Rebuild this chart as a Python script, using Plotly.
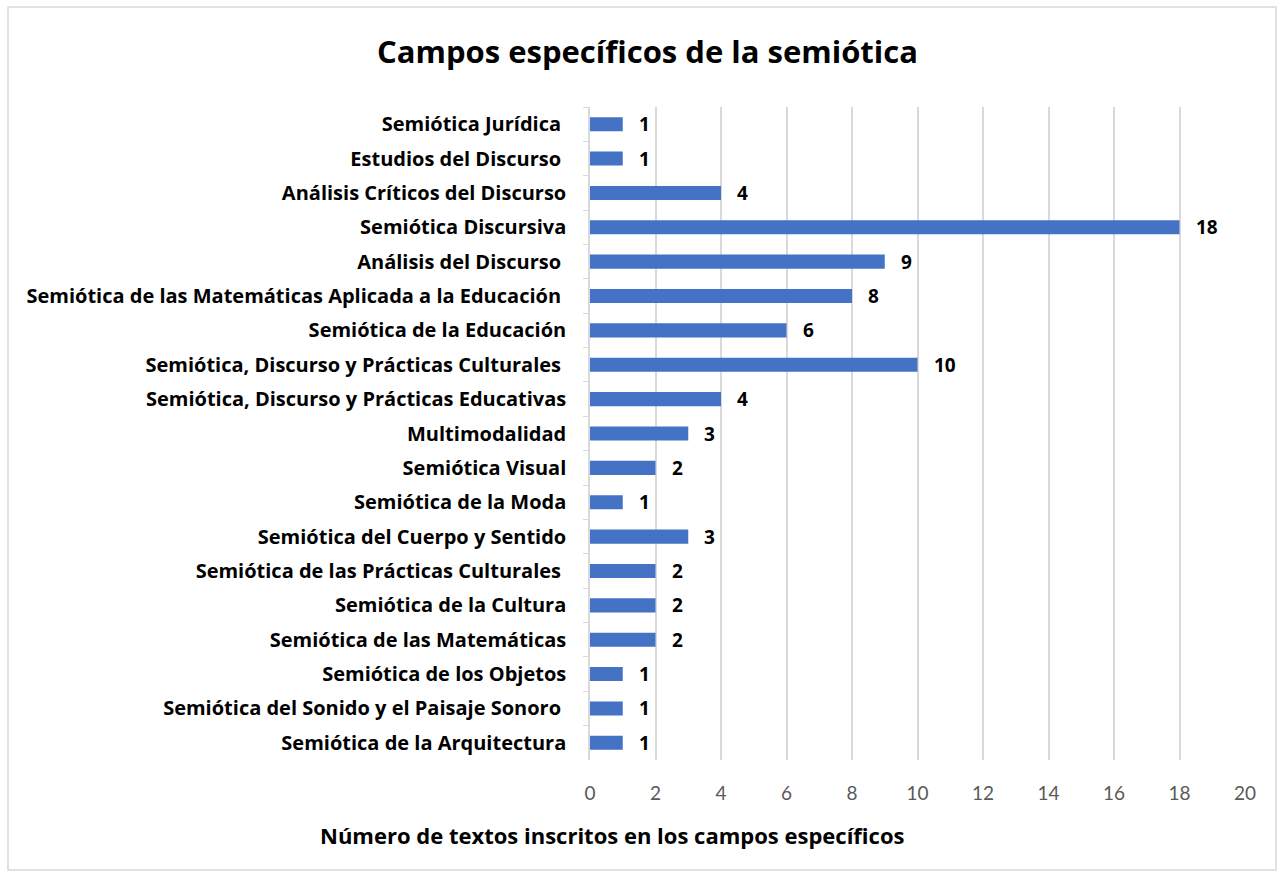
import plotly.graph_objects as go

categories = [
    "Semiótica Jurídica ",
    "Estudios del Discurso ",
    "Análisis Críticos del Discurso",
    "Semiótica Discursiva",
    "Análisis del Discurso ",
    "Semiótica de las Matemáticas Aplicada a la Educación ",
    "Semiótica de la Educación",
    "Semiótica, Discurso y Prácticas Culturales ",
    "Semiótica, Discurso y Prácticas Educativas",
    "Multimodalidad",
    "Semiótica Visual",
    "Semiótica de la Moda",
    "Semiótica del Cuerpo y Sentido",
    "Semiótica de las Prácticas Culturales ",
    "Semiótica de la Cultura",
    "Semiótica de las Matemáticas",
    "Semiótica de los Objetos",
    "Semiótica del Sonido y el Paisaje Sonoro ",
    "Semiótica de la Arquitectura",
]
values = [1, 1, 4, 18, 9, 8, 6, 10, 4, 3, 2, 1, 3, 2, 2, 2, 1, 1, 1]
x_ticks = list(range(0, 21, 2))

title_text = "Campos específicos de la semiótica"
x_title = "Número de textos inscritos en los campos específicos"

W, H = 1283, 873
L, R, T, B = 590, 1245, 107, 760

FONT = "Open Sans"
TICKFONT = "Lato"

fig = go.Figure(go.Bar(
    x=values, y=categories, orientation="h",
    marker=dict(color="#4472C4", line=dict(width=0)),
    width=0.41,
    hoverinfo="x+y",
))

for c, v in zip(categories, values):
    fig.add_annotation(
        x=v, y=c, xref="x", yref="y", text=str(v), showarrow=False,
        xanchor="left", xshift=12, bgcolor="white", borderpad=3,
        font=dict(family=FONT, size=19, color="black", weight="bold"),
    )

def px(xp):
    return (xp - L) / (R - L)

def py(yp):
    return (B - yp) / (B - T)

fig.add_annotation(
    x=px(612), y=py(835), xref="paper", yref="paper", text=x_title,
    showarrow=False, xanchor="center", yanchor="middle",
    font=dict(family=FONT, size=22, color="black", weight="bold"),
)
fig.add_annotation(
    x=px(647), y=py(51), xref="paper", yref="paper", text=title_text,
    showarrow=False, xanchor="center", yanchor="middle",
    font=dict(family=FONT, size=31, color="black", weight="bold"),
)
fig.add_shape(
    type="rect", xref="paper", yref="paper",
    x0=px(8), x1=px(1276), y0=py(870), y1=py(7),
    line=dict(color="#d9d9d9", width=1.5), fillcolor="rgba(0,0,0,0)", layer="below",
)

fig.update_layout(
    width=W, height=H,
    margin=dict(l=L, r=W - R, t=T, b=H - B),
    paper_bgcolor="white", plot_bgcolor="white",
    showlegend=False,
    xaxis=dict(
        range=[0, 20], tickvals=x_ticks, showgrid=True, gridcolor="#d9d9d9", gridwidth=1.5,
        zeroline=False, showline=False, ticks="",
        tickfont=dict(family=TICKFONT, size=19, color="#595959"),
        ticklabelstandoff=20,
    ),
    yaxis=dict(
        autorange="reversed", showgrid=False, zeroline=False,
        showline=True, linecolor="#d9d9d9", linewidth=1.5,
        ticks="outside", ticklen=5, tickcolor="#d9d9d9", tickson="boundaries",
        tickfont=dict(family=FONT, size=20, color="black", weight="bold"),
        ticklabelstandoff=18,
    ),
)

fig.write_html("out.html", config={"displayModeBar": False})

with open("out.html", "r", encoding="utf-8") as f:
    html = f.read()
html = html.replace("<head>", "<head><style>html,body{margin:0;padding:0;overflow:hidden;}</style>", 1)
with open("out.html", "w", encoding="utf-8") as f:
    f.write(html)
